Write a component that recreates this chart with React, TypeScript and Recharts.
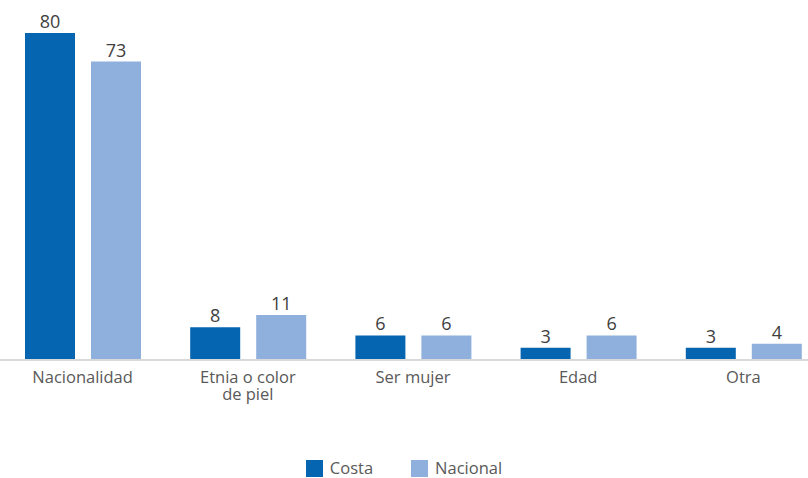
import React from 'react';
import { BarChart, Bar, XAxis, YAxis, Legend, LabelList } from 'recharts';

const categories = ['Nacionalidad', 'Etnia o color\nde piel', 'Ser mujer', 'Edad', 'Otra'];
const costa = [80, 8, 6, 3, 3];
const nacional = [73, 11, 6, 6, 4];
const seriesNames = ['Costa', 'Nacional'];
const colors = ['#0565B0', '#8FB0DC'];

const data = categories.map((c, i) => ({ cat: c, costa: costa[i], nacional: nacional[i] }));

const FONT = '"Open Sans", sans-serif';

const Tick = (props: any) => {
  const { x, y, payload } = props;
  const lines = String(payload.value).split('\n');
  return (
    <g transform={`translate(${x},${y})`}>
      <text textAnchor="middle" fontFamily={FONT} fontSize={16.5} fill="#595959">
        {lines.map((l, i) => (
          <tspan key={i} x={0} dy={i === 0 ? 15 : 17}>{l}</tspan>
        ))}
      </text>
    </g>
  );
};

const LegendContent = () => (
  <div style={{ display: 'flex', justifyContent: 'center', fontFamily: FONT, fontSize: 16.5, lineHeight: '18px', paddingTop: 5, color: '#595959' }}>
    {seriesNames.map((n, i) => (
      <div key={n} style={{ display: 'flex', alignItems: 'center', marginRight: i === 0 ? 38 : 0 }}>
        <span style={{ display: 'inline-block', width: 17, height: 17, background: colors[i], marginRight: 7 }} />
        <span>{n}</span>
      </div>
    ))}
  </div>
);

export default function App() {
  return (
    <div style={{ position: 'absolute', left: 0, top: 0, width: 808, height: 478, overflow: 'hidden', background: '#fff' }}>
      <BarChart
        width={826}
        height={478}
        data={data}
        margin={{ top: 33, right: 0, left: 0, bottom: 44 }}
        barCategoryGap={25}
        barGap={16}
      >
        <XAxis
          dataKey="cat"
          tickLine={false}
          axisLine={{ stroke: '#D9D9D9', strokeWidth: 2 }}
          tick={<Tick />}
          height={50}
          interval={0}
        />
        <YAxis hide domain={[0, 80]} />
        <Legend
          verticalAlign="bottom"
          height={24}
          content={<LegendContent />}
          wrapperStyle={{ bottom: 0, left: 0, width: 808 }}
        />
        <Bar dataKey="costa" name="Costa" fill={colors[0]} isAnimationActive={false}>
          <LabelList dataKey="costa" position="top" offset={5} fontFamily={FONT} fontSize={18} fill="#404040" />
        </Bar>
        <Bar dataKey="nacional" name="Nacional" fill={colors[1]} isAnimationActive={false}>
          <LabelList dataKey="nacional" position="top" offset={5} fontFamily={FONT} fontSize={18} fill="#404040" />
        </Bar>
      </BarChart>
    </div>
  );
}
